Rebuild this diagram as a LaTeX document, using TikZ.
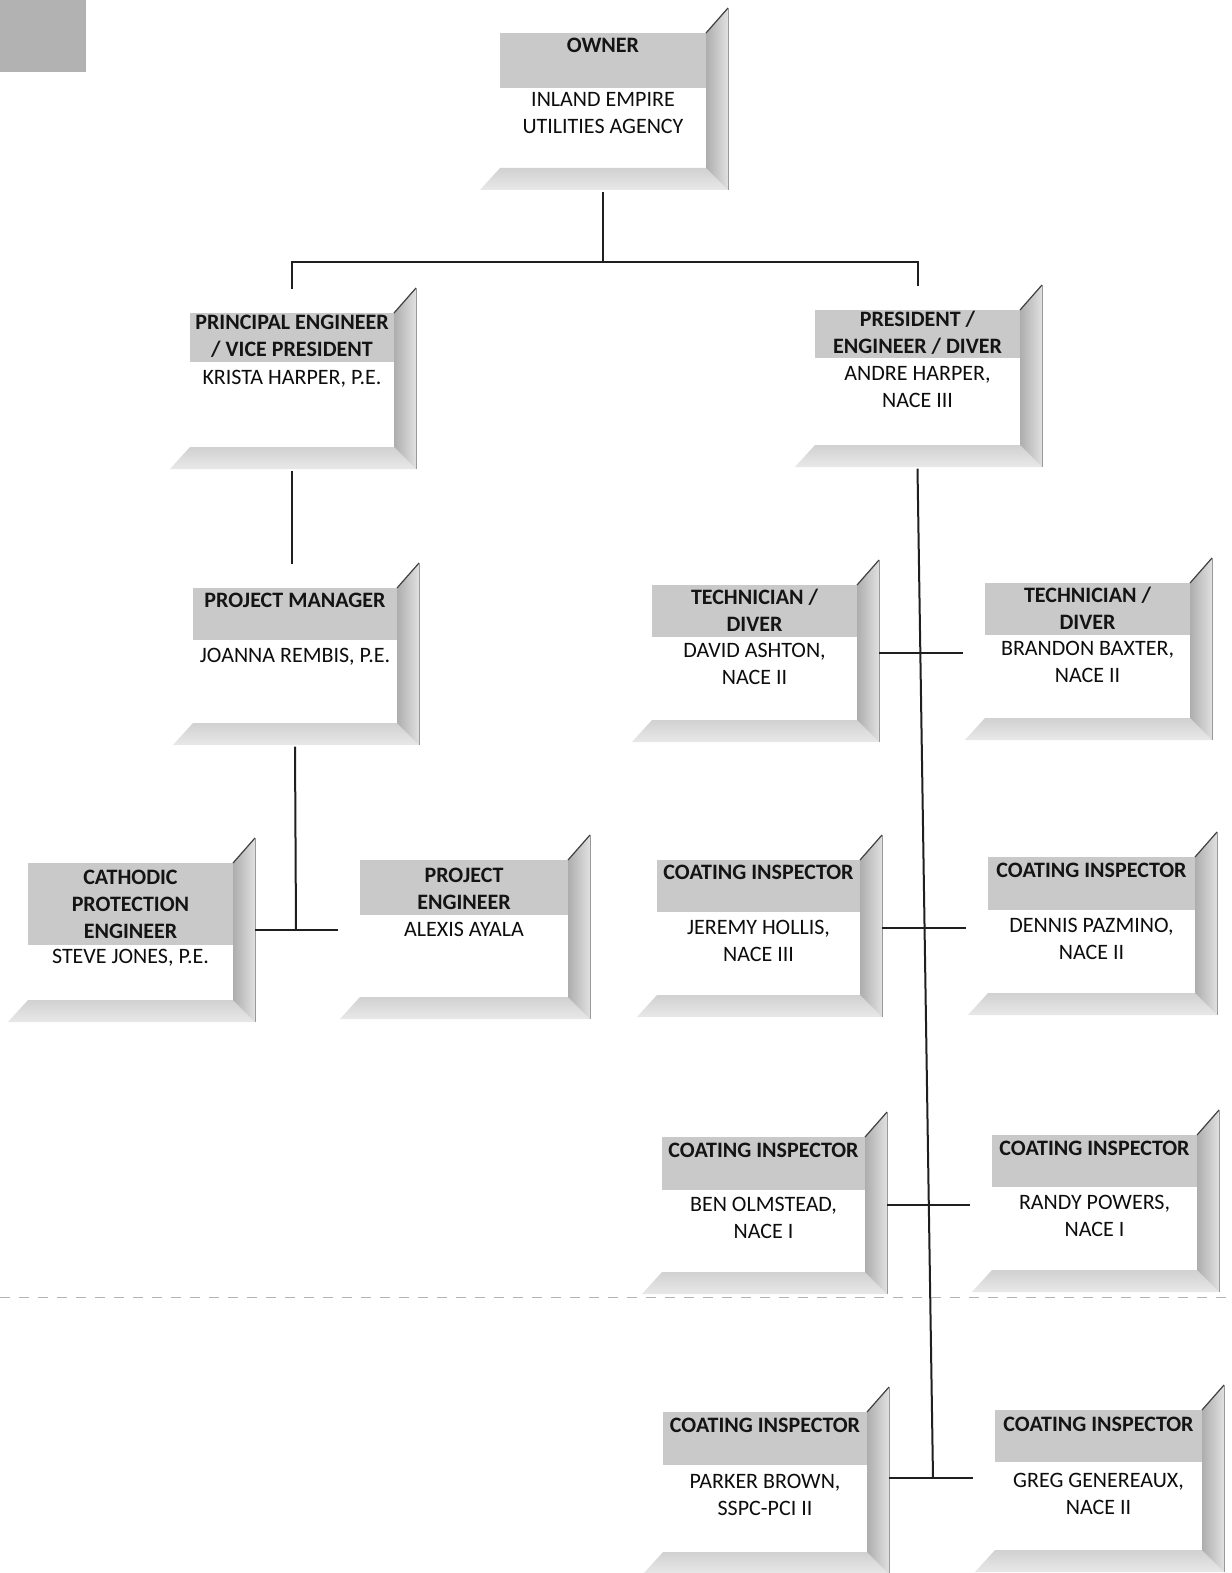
\documentclass[tikz,border=0pt]{standalone}
\usepackage{fontspec}
\setmainfont{Carlito}
\usetikzlibrary{calc}
\tikzset{
  frontface/.style={fill=white},
  headband/.style={fill=black!21},
  rightpanel/.style={left color=black!32,right color=black!12},
  bottompanel/.style={top color=black!18,bottom color=black!9},
  edgeline/.style={draw=black!75,line width=1.2pt},
  frame/.style={rectangle,inner sep=0pt,draw=none},
  titletext/.style={font=\fontsize{22}{27}\selectfont\bfseries,text=black!92,align=center,inner sep=0pt},
  nametext/.style={font=\fontsize{22}{27}\selectfont,text=black!95,align=center,inner sep=0pt},
  conn/.style={draw=black!88,line width=2pt},
}
\newcommand{\orgframe}[6]{%
  \fill[frontface] (#2,#3) rectangle (#4,#5);
  \fill[headband] (#2,#3) rectangle (#4,#6);
  \shade[bottompanel] (#2,#5) -- (#4,#5) -- ({#4+22},{#5+22}) -- ({#2-20},{#5+22}) -- cycle;
  \shade[rightpanel] (#4,#3) -- ({#4+22},{#3-25}) -- ({#4+22},{#5+22}) -- (#4,#5) -- cycle;
  \draw[edgeline] (#4,#3) -- ({#4+22},{#3-25});
  \draw[draw=black!40,line width=0.6pt] ({#4+22},{#3-25}) -- ({#4+22},{#5+22});
  \node[frame,minimum width={#4-#2+44},minimum height={#5-#3+47}] (#1) at ({(#2+#4)/2},{(#3+#5)/2}) {};
}
\begin{document}
\begin{tikzpicture}[x=1pt,y=-1pt]
\fill[white] (0,0) rectangle (1231,1573);
\useasboundingbox (0,0) rectangle (1231,1573);
% scan artefacts
\fill[black!30] (0,0) rectangle (86,72);
\draw[black!30,line width=1pt,dash pattern=on 10pt off 9pt] (0,1297) -- (1231,1297);

% boxes
\orgframe{owner}{500}{33}{706}{168}{88}
\node[titletext] (ownerT) at (603,45) {OWNER};
\node[nametext] (ownerN) at (603,113.5) {INLAND EMPIRE\\UTILITIES AGENCY};

\orgframe{principal}{190}{313}{394}{447}{362}
\node[titletext] (principalT) at (292,336.5) {PRINCIPAL ENGINEER\\/ VICE PRESIDENT};
\node[nametext] (principalN) at (292,379) {KRISTA HARPER, P.E.};

\orgframe{president}{815}{310}{1020}{445}{358}
\node[titletext] (presidentT) at (917.5,333) {PRESIDENT /\\ENGINEER / DIVER};
\node[nametext] (presidentN) at (917.5,387.5) {ANDRE HARPER,\\NACE III};

\orgframe{pm}{193}{588}{397}{723}{640}
\node[titletext] (pmT) at (295,600) {PROJECT MANAGER};
\node[nametext] (pmN) at (295,657) {JOANNA REMBIS, P.E.};

\orgframe{david}{652}{585}{857}{720}{637}
\node[titletext] (davidT) at (754.5,610) {TECHNICIAN /\\DIVER};
\node[nametext] (davidN) at (754.5,663.5) {DAVID ASHTON,\\NACE II};

\orgframe{brandon}{985}{583}{1190}{718}{635}
\node[titletext] (brandonT) at (1087.5,608) {TECHNICIAN /\\DIVER};
\node[nametext] (brandonN) at (1087.5,661.5) {BRANDON BAXTER,\\NACE II};

\orgframe{cathodic}{28}{863}{233}{1000}{945}
\node[titletext] (cathodicT) at (130.5,904) {CATHODIC\\PROTECTION\\ENGINEER};
\node[nametext] (cathodicN) at (130.5,958) {STEVE JONES, P.E.};

\orgframe{pe}{360}{860}{568}{997}{915}
\node[titletext] (peT) at (464,888.5) {PROJECT\\ENGINEER};
\node[nametext] (peN) at (464,929) {ALEXIS AYALA};

\orgframe{jeremy}{657}{860}{860}{995}{912}
\node[titletext] (jeremyT) at (758.5,872) {COATING INSPECTOR};
\node[nametext] (jeremyN) at (758.5,941) {JEREMY HOLLIS,\\NACE III};

\orgframe{dennis}{988}{857}{1195}{993}{910}
\node[titletext] (dennisT) at (1091.5,870) {COATING INSPECTOR};
\node[nametext] (dennisN) at (1091.5,938.5) {DENNIS PAZMINO,\\NACE II};

\orgframe{ben}{662}{1137}{865}{1272}{1190}
\node[titletext] (benT) at (763.5,1150) {COATING INSPECTOR};
\node[nametext] (benN) at (763.5,1217.5) {BEN OLMSTEAD,\\NACE I};

\orgframe{randy}{992}{1135}{1197}{1270}{1187}
\node[titletext] (randyT) at (1094.5,1148) {COATING INSPECTOR};
\node[nametext] (randyN) at (1094.5,1215.5) {RANDY POWERS,\\NACE I};

\orgframe{parker}{663}{1412}{867}{1552}{1465}
\node[titletext] (parkerT) at (765,1425) {COATING INSPECTOR};
\node[nametext] (parkerN) at (765,1494.5) {PARKER BROWN,\\SSPC-PCI II};

\orgframe{greg}{995}{1410}{1202}{1550}{1462}
\node[titletext] (gregT) at (1098.5,1424) {COATING INSPECTOR};
\node[nametext] (gregN) at (1098.5,1493.5) {GREG GENEREAUX,\\NACE II};

% connectors
\coordinate (topj) at (603,262);
\draw[conn] (owner.south) -- (topj);
\draw[conn] (principal.north) |- (topj) -| (president.north);
\draw[conn] (principal.south) -- (principal.south |- pm.north);
\coordinate (leftj) at (296,930);
\draw[conn] (pm.south) -- (leftj);
\draw[conn] (cathodic.east |- leftj) -- (pe.west |- leftj);
\coordinate (rightj) at (933,1478);
\draw[conn] (president.south) -- (rightj);
\draw[conn] (david.east) -- (david.east -| brandon.west);
\draw[conn] (jeremy.east) -- (jeremy.east -| dennis.west);
\draw[conn] (ben.east) -- (ben.east -| randy.west);
\draw[conn] (parker.east |- rightj) -- (greg.west |- rightj);
\end{tikzpicture}
\end{document}
